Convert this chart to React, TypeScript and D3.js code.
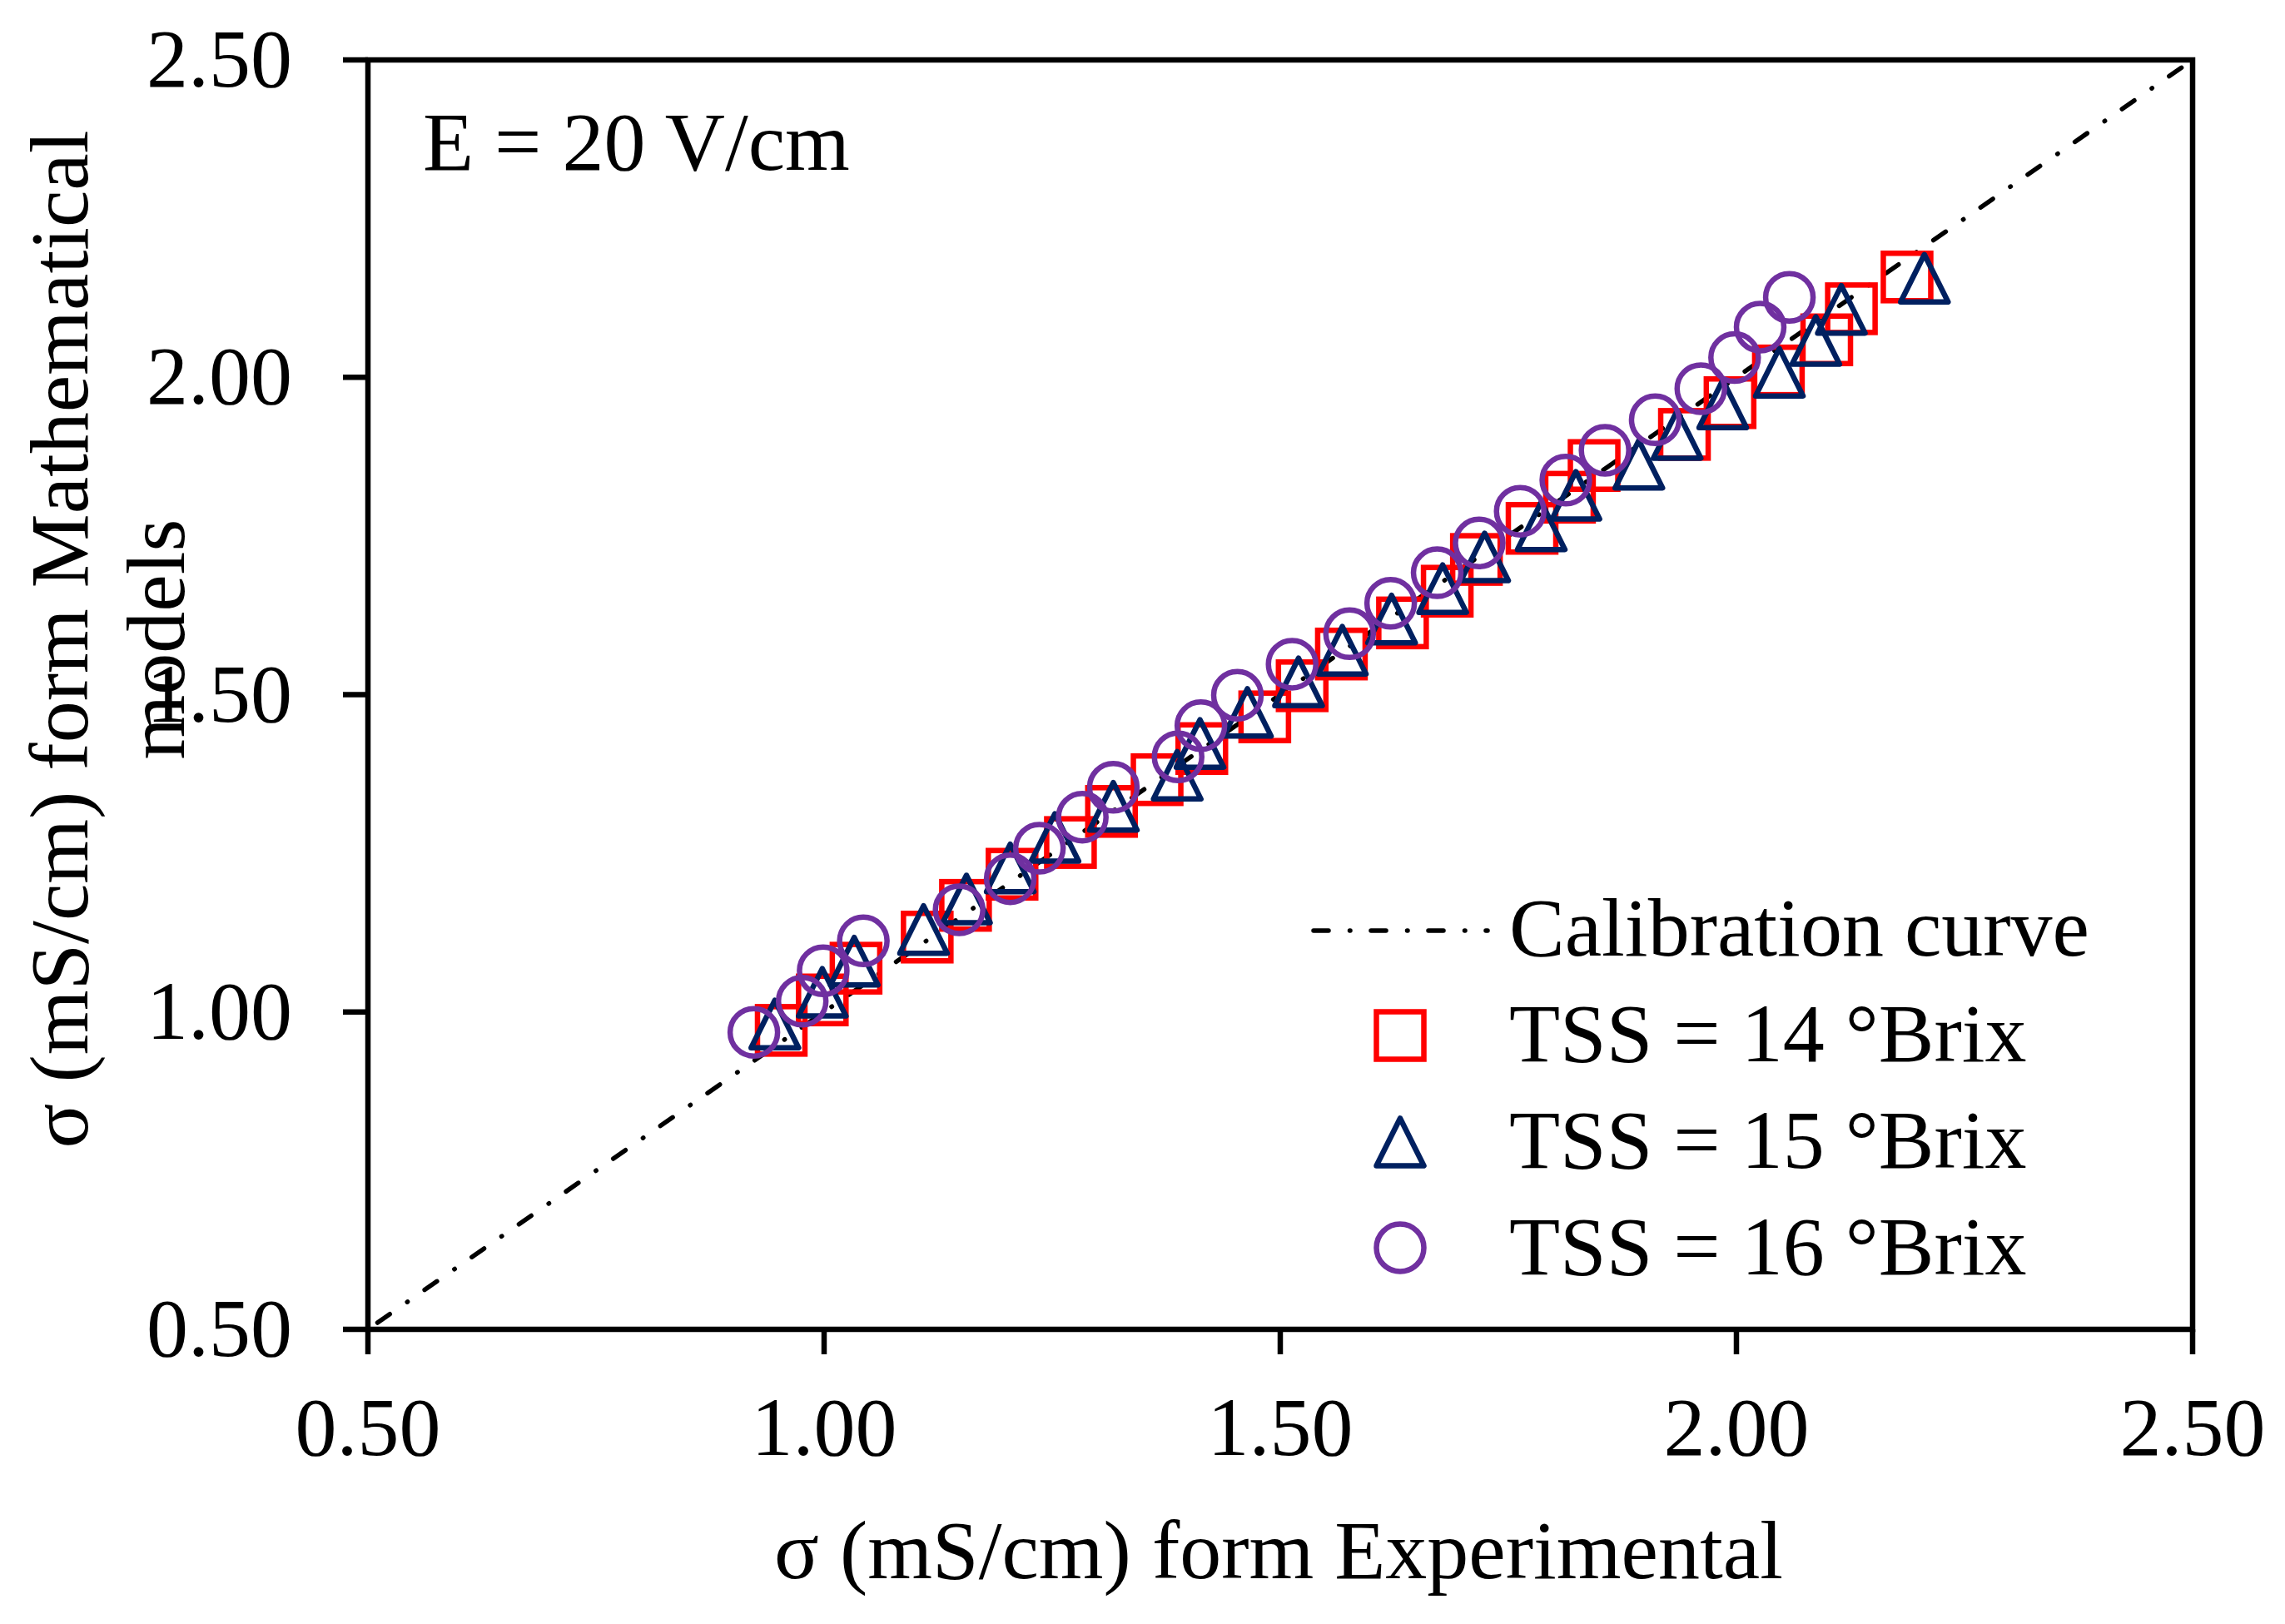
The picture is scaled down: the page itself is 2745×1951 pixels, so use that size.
import React from "react";
import * as d3 from "d3";

const axisTicks = [0.5, 1.0, 1.5, 2.0, 2.5];
const calibrationCurve = [0.5, 2.5];

const tss14X = [0.953, 0.998, 1.035, 1.113, 1.155, 1.206, 1.27, 1.315, 1.365, 1.414, 1.483, 1.524, 1.567, 1.634, 1.683, 1.715, 1.776, 1.817, 1.844, 1.943, 1.993, 2.046, 2.099, 2.126, 2.187];
const tss14Y = [0.971, 1.019, 1.069, 1.118, 1.168, 1.217, 1.267, 1.316, 1.366, 1.415, 1.465, 1.514, 1.564, 1.613, 1.663, 1.713, 1.762, 1.811, 1.861, 1.91, 1.96, 2.01, 2.059, 2.108, 2.158];
const tss15X = [0.946, 0.998, 1.033, 1.109, 1.156, 1.204, 1.253, 1.317, 1.387, 1.412, 1.464, 1.52, 1.568, 1.622, 1.678, 1.724, 1.786, 1.824, 1.893, 1.935, 1.985, 2.047, 2.087, 2.115, 2.206];
const tss15Y = [0.981, 1.031, 1.08, 1.13, 1.178, 1.227, 1.275, 1.324, 1.373, 1.423, 1.472, 1.52, 1.57, 1.619, 1.667, 1.717, 1.766, 1.814, 1.863, 1.91, 1.958, 2.008, 2.058, 2.107, 2.156];
const tss16X = [0.923, 0.976, 0.999, 1.043, 1.148, 1.204, 1.236, 1.283, 1.317, 1.388, 1.413, 1.453, 1.513, 1.576, 1.621, 1.672, 1.718, 1.763, 1.813, 1.856, 1.911, 1.961, 1.998, 2.026, 2.058];
const tss16Y = [0.968, 1.017, 1.065, 1.112, 1.161, 1.21, 1.258, 1.307, 1.354, 1.402, 1.451, 1.499, 1.548, 1.596, 1.644, 1.692, 1.739, 1.789, 1.838, 1.885, 1.933, 1.982, 2.031, 2.079, 2.126];

const legendLabels = ["Calibration curve", "TSS = 14 °Brix", "TSS = 15 °Brix", "TSS = 16 °Brix"];
const xTitle = "σ (mS/cm) form Experimental";
const yTitleLines = ["σ (mS/cm) form Mathematical", "models"];
const annotation = "E = 20 V/cm";

const W = 2745;
const H = 1951;
const L = 442, R = 2634, T = 72, B = 1597;
const FONT = "'Liberation Serif', 'Times New Roman', serif";
const FS = 100;
const RED = "#FF0000";
const NAVY = "#002060";
const PURPLE = "#7030A0";
const MS = 57;
const SW = 6.5;
const DASH = "18 25.5 0.5 25";

const x = d3.scaleLinear().domain([0.5, 2.5]).range([L, R]);
const y = d3.scaleLinear().domain([0.5, 2.5]).range([B, T]);
const fmt = d3.format(".2f");

function Square({ cx, cy }: { cx: number; cy: number }) {
  return <rect x={cx - MS / 2} y={cy - MS / 2} width={MS} height={MS} fill="none" stroke={RED} strokeWidth={SW} />;
}
function Tri({ cx, cy }: { cx: number; cy: number }) {
  const h = MS / 2;
  const p = d3.path();
  p.moveTo(cx, cy - h);
  p.lineTo(cx + h, cy + h);
  p.lineTo(cx - h, cy + h);
  p.closePath();
  return <path d={p.toString()} fill="none" stroke={NAVY} strokeWidth={SW} strokeLinejoin="round" />;
}
function Circ({ cx, cy }: { cx: number; cy: number }) {
  return <circle cx={cx} cy={cy} r={MS / 2} fill="none" stroke={PURPLE} strokeWidth={SW} />;
}

export default function App() {
  const line = d3.line<number>().x((d) => x(d)).y((d) => y(d));
  const legendY = [1118, 1244, 1372, 1499];
  const legendBase = [1148, 1275, 1403, 1531];
  return (
    <svg width={W} height={H} viewBox={`0 0 ${W} ${H}`} style={{ position: "absolute", left: 0, top: 0, background: "#fff" }}>
      <rect x={0} y={0} width={W} height={H} fill="#fff" />
      <path d={line(calibrationCurve) || ""} fill="none" stroke="#000" strokeWidth={5.5} strokeDasharray={DASH} strokeDashoffset={-14} strokeLinecap="round" />
      {tss14X.map((v, i) => <Square key={"s" + i} cx={x(v)} cy={y(tss14Y[i])} />)}
      {tss15X.map((v, i) => <Tri key={"t" + i} cx={x(v)} cy={y(tss15Y[i])} />)}
      {tss16X.map((v, i) => <Circ key={"c" + i} cx={x(v)} cy={y(tss16Y[i])} />)}
      <rect x={L} y={T} width={R - L} height={B - T} fill="none" stroke="#000" strokeWidth={SW} />
      {axisTicks.map((t) => (
        <g key={"xt" + t}>
          <line x1={x(t)} x2={x(t)} y1={B} y2={B + 30} stroke="#000" strokeWidth={SW} />
          <text x={x(t)} y={B + 151} textAnchor="middle" fontFamily={FONT} fontSize={FS}>{fmt(t)}</text>
        </g>
      ))}
      {axisTicks.map((t) => (
        <g key={"yt" + t}>
          <line x1={L - 30} x2={L} y1={y(t)} y2={y(t)} stroke="#000" strokeWidth={SW} />
          <text x={351} y={y(t) + 32} textAnchor="end" fontFamily={FONT} fontSize={FS}>{fmt(t)}</text>
        </g>
      ))}
      <text x={1536} y={1896} textAnchor="middle" fontFamily={FONT} fontSize={FS}>{xTitle}</text>
      <text transform="translate(105,768) rotate(-90)" textAnchor="middle" fontFamily={FONT} fontSize={FS}>{yTitleLines[0]}</text>
      <text transform="translate(221,768) rotate(-90)" textAnchor="middle" fontFamily={FONT} fontSize={FS}>{yTitleLines[1]}</text>
      <text x={508} y={204} fontFamily={FONT} fontSize={FS}>{annotation}</text>
      <line x1={1578} x2={1787} y1={legendY[0]} y2={legendY[0]} stroke="#000" strokeWidth={5.5} strokeDasharray={DASH} strokeLinecap="round" />
      <Square cx={1682} cy={legendY[1]} />
      <Tri cx={1682} cy={legendY[2]} />
      <Circ cx={1682} cy={legendY[3]} />
      {legendLabels.map((lab, i) => (
        <text key={lab} x={1813} y={legendBase[i]} fontFamily={FONT} fontSize={FS}>{lab}</text>
      ))}
    </svg>
  );
}
